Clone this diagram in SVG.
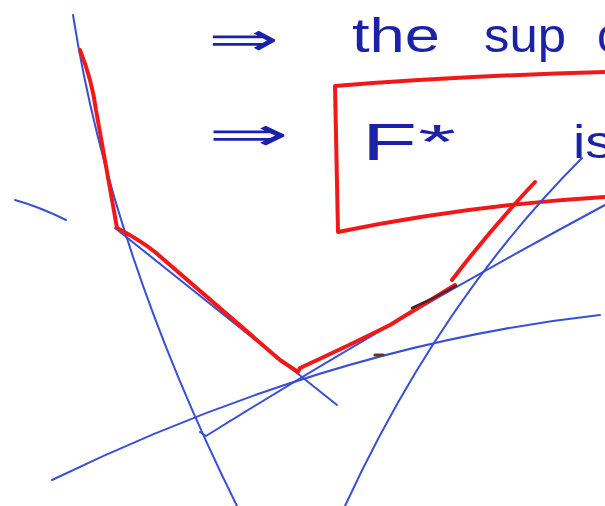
<svg xmlns="http://www.w3.org/2000/svg" width="605" height="506" viewBox="0 0 605 506">
<style>
.ink{fill:#1c22a8;font-family:"Liberation Sans",sans-serif;}
.bl{fill:none;stroke:#3a4fd6;stroke-width:2;stroke-linecap:round;stroke-linejoin:round;}
.rd{fill:none;stroke:#f01818;stroke-width:4;stroke-linecap:round;stroke-linejoin:round;}
</style>
<rect width="605" height="506" fill="#ffffff"/>
<g id="text">
<text class="ink" x="208" y="55" font-size="46" textLength="72" lengthAdjust="spacingAndGlyphs">⇒</text>
<text class="ink" x="352" y="52" font-size="48" textLength="88" lengthAdjust="spacingAndGlyphs">the</text>
<text class="ink" x="484" y="52" font-size="48" textLength="82" lengthAdjust="spacingAndGlyphs">sup</text>
<text class="ink" x="597" y="52" font-size="48">o</text>
<text class="ink" x="208" y="150" font-size="46" textLength="82" lengthAdjust="spacingAndGlyphs">⇒</text>
<text class="ink" x="362" y="160" font-size="52" textLength="55" lengthAdjust="spacingAndGlyphs">F</text>
<text class="ink" x="418" y="158" font-size="48" textLength="38" lengthAdjust="spacingAndGlyphs">*</text>
<text class="ink" x="573" y="158" font-size="46" textLength="40" lengthAdjust="spacingAndGlyphs">is</text>
</g>
<g id="box">
<path class="rd" d="M335,86 Q460,76 605,72 M335,86 L338,232 Q470,205 605,197"/>
</g>
<g id="lines">
<path class="bl" d="M73,15 Q110,250 237,506"/>
<path class="bl" d="M345,506 Q440,300 582,158"/>
<path class="bl" d="M52,480 Q330,345 600,315"/>
<path class="bl" d="M200,432 L206,436 Q400,315 605,205"/>
<path class="bl" d="M115,228 L337,405"/>
<path class="bl" stroke-width="3" d="M15,200 Q40,207 66,220"/>
</g>
<g id="envelope">
<path class="rd" d="M80,50 Q92,80 96,110 L117,228 Q140,240 155,252 L280,360 L292,368 L298,372 L300,368 Q350,345 390,325 L455,285"/>
<path class="rd" d="M452,280 Q490,230 535,182"/>
<path fill="none" stroke="#5a2020" stroke-width="2.5" stroke-linecap="round" d="M412,308 Q435,298 456,286"/>
<path fill="none" stroke="#6a3030" stroke-width="3" stroke-linecap="round" d="M375,355 L383,355"/>
</g>
</svg>
